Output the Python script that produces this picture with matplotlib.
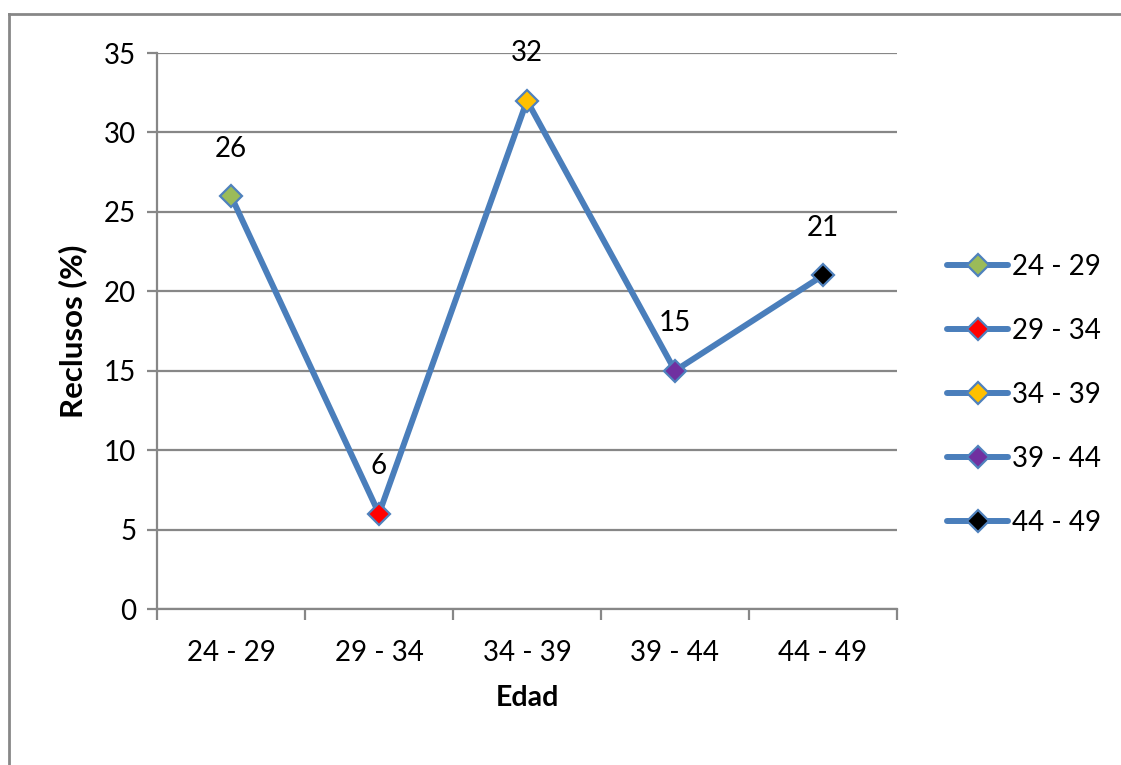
import matplotlib.pyplot as plt
from matplotlib.lines import Line2D

plt.rcParams['font.family'] = ['Lato', 'DejaVu Sans']

# Age groups and percentage of inmates
edades = ["24 - 29", "29 - 34", "34 - 39", "39 - 44", "44 - 49"]
reclusos = [26, 6, 32, 15, 21]
colores_punto = ["#9BBB59", "#FF0000", "#FFC000", "#7030A0", "#000000"]

linea = "#4A7EBB"
borde_marca = "#4F81BD"
gris = "#878787"

fig = plt.figure(figsize=(11.21, 7.65), dpi=100)
ax = fig.add_axes([157 / 1121, 1 - 609 / 765, (897 - 157) / 1121, (609 - 53) / 765])

x = list(range(len(edades)))
ax.plot(x, reclusos, color=linea, linewidth=4.3, zorder=3, solid_capstyle="round")
for xi, yi, c in zip(x, reclusos, colores_punto):
    ax.plot(xi, yi, marker="D", markersize=11, markerfacecolor=c,
            markeredgecolor=borde_marca, markeredgewidth=1.6, zorder=4)
    ax.annotate(str(yi), (xi, yi), xytext=(0, 34), textcoords="offset points",
                ha="center", va="center", fontsize=20)

ax.set_xlim(-0.5, 4.5)
ax.set_ylim(0, 35)
ax.set_yticks(range(0, 36, 5))
ax.set_xticks(x)
ax.set_xticklabels(edades)
ax.set_xticks([i - 0.5 for i in range(len(edades) + 1)], minor=True)

ax.grid(axis="y", color=gris, linewidth=1.6, zorder=1)
ax.tick_params(axis="y", length=7, width=1.6, color=gris, labelsize=20, pad=8)
ax.tick_params(axis="x", which="major", length=0, labelsize=20, pad=22)
ax.tick_params(axis="x", which="minor", length=8, width=1.6, color=gris)
for s in ["top", "right"]:
    ax.spines[s].set_visible(False)
for s in ["left", "bottom"]:
    ax.spines[s].set_color(gris)
    ax.spines[s].set_linewidth(1.6)

ax.set_ylabel("Reclusos (%)", fontsize=22.5, fontweight="bold", labelpad=12)
ax.set_xlabel("Edad", fontsize=20.5, fontweight="bold", labelpad=14)

handles = [Line2D([0], [0], color=linea, linewidth=4.3, marker="D", markersize=11,
                  markerfacecolor=c, markeredgecolor=borde_marca, markeredgewidth=1.6,
                  solid_capstyle="round")
           for c in colores_punto]
fig.legend(handles, edades, loc="center left", bbox_to_anchor=(936 / 1121, 1 - 395 / 765),
           frameon=False, fontsize=20, handlelength=2.2, handletextpad=0.12,
           labelspacing=1.37, borderaxespad=0)

# outer chart frame (top and left edges)
fig.add_artist(Line2D([9 / 1121, 1], [1 - 14 / 765] * 2, transform=fig.transFigure,
                      color=gris, linewidth=2))
fig.add_artist(Line2D([9 / 1121] * 2, [0, 1 - 14 / 765], transform=fig.transFigure,
                      color=gris, linewidth=2))

fig.savefig("out.png", dpi=100)
